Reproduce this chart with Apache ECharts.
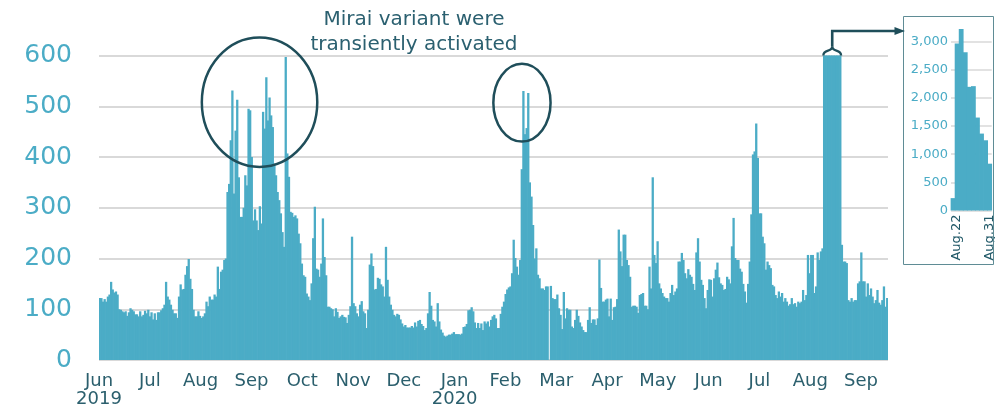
<!DOCTYPE html>
<html><head><meta charset="utf-8">
<script src="https://cdn.jsdelivr.net/npm/echarts@6/dist/echarts.min.js"></script>
<style>html,body{margin:0;padding:0;background:#fff}#c{width:995px;height:404px}</style>
</head><body><div id="c"></div>
<script>
// ---- daily counts, one array per month ----
const jun2019 = [122,122,115,120,115,125,129,154,139,133, 135,129,100,99,96,94,96,87,94,102, 99,96,90,90,86,96,86,89,97,92];
const jul2019 = [99,86,94,80,92,79,94,94,98,102, 109,154,125,119,109,99,92,92,83,125, 149,139,140,168,185,199,160,140,99,86, 86];
const aug2019 = [96,87,83,86,92,115,106,125,119, 119,129,125,184,140,174,178,197,200,331, 347,433,531,328,452,513,360,282,282,300, 364,344];
const sep2019 = [495,492,400,275,297,275,256,303, 269,489,456,557,472,517,482,459,387,364, 331,315,289,252,223,597,407,361,292,290, 282,285];
const oct2019 = [279,249,230,190,167,164,131,125, 118,151,240,302,180,178,164,190,279,203, 167,105,105,102,100,86,102,95,83,86, 89,85,84];
const nov2019 = [73,89,106,243,112,106,92, 86,109,116,96,92,63,99,188,210,185, 139,140,162,160,149,145,125,223,158,125, 109,99,89];
const dec2019 = [86,91,89,80,72,66,69, 64,64,64,67,64,74,66,77,79,71, 67,59,63,92,134,107,79,76,66,112, 76,60,54,48];
const jan2020 = [46,48,50,50,52,55, 51,51,51,50,52,65,66,71,98,99, 104,96,74,63,73,63,72,59,76,72, 76,66,79,86,89];
const feb2020 = [82,63,63,91,105, 115,130,139,143,145,171,237,201,184,168, 197,376,530,445,457,526,350,322,266,200, 220,168,161,141];
const mar2020 = [141,138,145,145,null,146, 122,120,120,129,102,89,61,134,82,102, 99,99,66,63,79,99,87,74,66,59, 55,55,79,104,73];
const apr2020 = [80,80,69,82,198, 142,115,115,119,121,86,121,79,104,105, 120,257,214,185,247,247,197,187,164,105, 107,107,105,93,128];
const may2020 = [130,132,107,107,100, 184,141,360,207,191,234,151,141,132,125, 122,122,115,132,148,128,135,141,194,194, 211,197,171,161,179,168];
const jun2020 = [164,150,138,212, 240,194,158,148,122,102,138,159,158,125, 161,178,192,163,151,148,138,140,164,159, 151,224,280,201,197,197];
const jul2020 = [180,174,150,135, 113,150,194,287,405,411,466,398,289,289, 243,230,178,194,187,181,148,145,128,122, 135,125,132,115,122,115,107];
const aug2020 = [110,122,110, 112,105,115,112,115,138,118,128,207,171, 207,207,132,145,212,197,214,220, 2970,3226,2811,2198,2210,1652,1367,1248,832,700];
const sep2020 = [640, 227,194,194,191,118,115,122,115,118,118, 151,155,212,155,155,125,151,128,141,125, 112,118,138,113,109,118,145,105,122];

// ---- tick labels ----
const monthTickLabels = ['Jun\n2019','Jul','Aug','Sep','Oct','Nov','Dec','Jan\n2020','Feb','Mar','Apr','May','Jun','Jul','Aug','Sep'];
// ---- inset (zoom on the capped spike) ----
const insetTickLabels = ['', 'Aug.22', '', '', '', '', '', '', '', 'Aug.31'];
const insetValues = [220, 2970, 3226, 2811, 2198, 2210, 1652, 1367, 1248, 832];
const annotationText = 'Mirai variant were\ntransiently activated';

const months = [
  [2019,6,jun2019],[2019,7,jul2019],[2019,8,aug2019],[2019,9,sep2019],[2019,10,oct2019],[2019,11,nov2019],[2019,12,dec2019],
  [2020,1,jan2020],[2020,2,feb2020],[2020,3,mar2020],[2020,4,apr2020],[2020,5,may2020],[2020,6,jun2020],[2020,7,jul2020],[2020,8,aug2020],[2020,9,sep2020]
];
const dates = [], values = [];
months.forEach(([y, m, arr]) => arr.forEach((v, i) => {
  dates.push(y + '-' + String(m).padStart(2,'0') + '-' + String(i+1).padStart(2,'0'));
  values.push(v);
}));

const BAR = '#4BACC6', DARK = '#215968', GRIDC = '#D9D9D9';
const FONT = '"DejaVu Sans", Verdana, sans-serif';

const chart = echarts.init(document.getElementById('c'), null, {renderer: 'canvas'});
const option = {
  animation: false,
  grid: [
    {left: 99, right: 107, top: 55.5, bottom: 44, containLabel: false, outerBoundsMode: 'none'},
    {left: 951, right: 3.3, top: 41.7, bottom: 193.5, containLabel: false, outerBoundsMode: 'none'}
  ],
  xAxis: [
    {type: 'category', gridIndex: 0, position: 'bottom', data: dates, boundaryGap: true,
     axisLine: {show: false}, axisTick: {show: false}, axisLabel: {show: false}, splitLine: {show: false}},
    {type: 'value', gridIndex: 0, position: 'bottom', min: 0, max: 15.53, interval: 1,
     axisLine: {show: false}, axisTick: {show: false}, splitLine: {show: false},
     axisLabel: {color: '#2B5F6D', fontSize: 18, fontFamily: FONT, margin: 12, lineHeight: 18,
       formatter: v => (Number.isInteger(v) && monthTickLabels[v]) ? monthTickLabels[v] : ''}},
    {type: 'category', gridIndex: 1, data: insetTickLabels, boundaryGap: true,
     axisLine: {show: false}, axisTick: {show: false},
     axisLabel: {interval: 0, rotate: 90, color: DARK, fontSize: 13, fontFamily: FONT, margin: 4}}
  ],
  yAxis: [
    {type: 'value', gridIndex: 0, min: 0, max: 600, interval: 100,
     axisLine: {show: false}, axisTick: {show: false},
     axisLabel: {color: BAR, fontSize: 25, fontFamily: FONT, margin: 27},
     splitLine: {lineStyle: {color: GRIDC, width: 2}}},
    {type: 'value', gridIndex: 1, min: 0, max: 3000, interval: 500,
     axisLine: {show: false}, axisTick: {show: false},
     axisLabel: {color: BAR, fontSize: 13, fontFamily: FONT, margin: 3,
       formatter: v => v.toLocaleString('en-US')},
     splitLine: {lineStyle: {color: GRIDC, width: 1.5}}}
  ],
  series: [
    {type: 'bar', xAxisIndex: 0, yAxisIndex: 0, data: values, barWidth: 2.3, clip: true, silent: true,
     itemStyle: {color: BAR}},
    {type: 'bar', xAxisIndex: 2, yAxisIndex: 1, data: insetValues, barWidth: 4.8, clip: false, silent: true,
     itemStyle: {color: BAR}}
  ]
};
chart.setOption(option);

// ---- annotations placed through the main chart's own scales ----
const p0 = chart.convertToPixel({seriesIndex: 0}, [0, 0]);
const p1 = chart.convertToPixel({seriesIndex: 0}, [1, 600]);
const step = p1[0] - p0[0];
const xAt = i => p0[0] + i * step;          // category index -> pixel (band centre)
const yAt = v => chart.convertToPixel({seriesIndex: 0}, [0, v])[1];

const ellipses = [
  {i: 98.8, v: 508, di: 35.7, dv: 127.5},
  {i: 261.1, v: 507, di: 17.7, dv: 76.5}
];
const spikeFirst = 448, spikeLast = 458;    // capped days in the main chart
const EC = '#1F4E5A';
const g = [];
ellipses.forEach(e => {
  const cx = xAt(e.i), cy = yAt(e.v);
  g.push({type: 'ellipse', shape: {cx, cy, rx: e.di * step, ry: cy - yAt(e.v + e.dv)},
          style: {fill: 'none', stroke: EC, lineWidth: 2.5}, silent: true, z: 100});
});
const L = xAt(spikeFirst - 0.5), R = xAt(spikeLast + 0.5), C = (L + R) / 2, yTop = yAt(600);
const cusp = yTop - 9, armY = 31, boxL = 903.5;
g.push({type: 'bezierCurve', shape: {x1: L, y1: yTop, cpx1: L, cpy1: yTop - 7, cpx2: C, cpy2: yTop - 3, x2: C, y2: cusp},
        style: {stroke: EC, lineWidth: 2.3, fill: 'none'}, z: 100, silent: true});
g.push({type: 'bezierCurve', shape: {x1: R, y1: yTop, cpx1: R, cpy1: yTop - 7, cpx2: C, cpy2: yTop - 3, x2: C, y2: cusp},
        style: {stroke: EC, lineWidth: 2.3, fill: 'none'}, z: 100, silent: true});
g.push({type: 'polyline', shape: {points: [[C, cusp], [C, armY], [boxL - 8, armY]]},
        style: {stroke: EC, lineWidth: 2.6, fill: 'none'}, z: 100, silent: true});
g.push({type: 'polygon', shape: {points: [[boxL - 9, armY - 4], [boxL + 1.5, armY], [boxL - 9, armY + 4]]},
        style: {fill: EC}, z: 100, silent: true});
// inset frame
g.push({type: 'rect', shape: {x: boxL, y: 16.5, width: 90, height: 248},
        style: {fill: 'none', stroke: '#5F8C95', lineWidth: 1}, z: 90, silent: true});
// annotation text
g.push({type: 'text', x: 414, y: 7, z: 100, silent: true,
        style: {text: annotationText, fill: '#2B6070', font: '20px ' + FONT, fontSize: 20, fontFamily: FONT,
                align: 'center', textAlign: 'center', verticalAlign: 'top', textVerticalAlign: 'top', lineHeight: 25}});
chart.setOption({graphic: {elements: g}});
</script>
</body></html>
